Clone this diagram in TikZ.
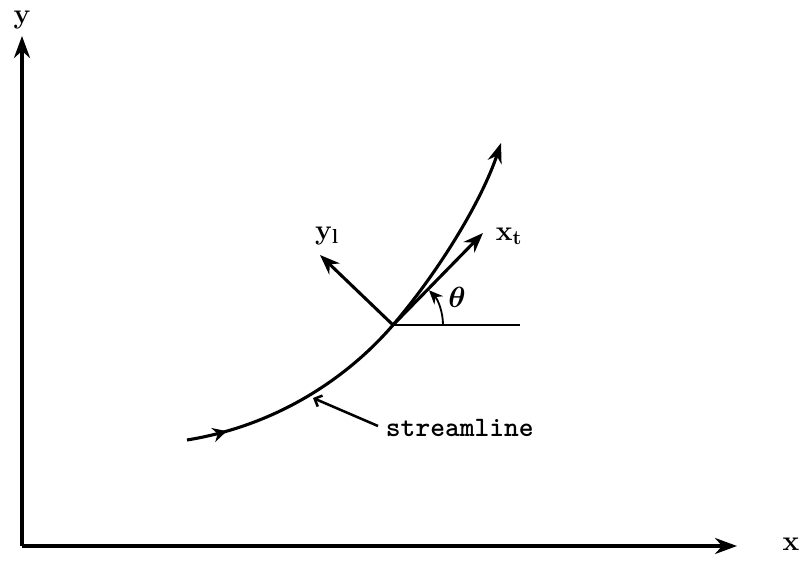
\documentclass[tikz,border=0pt]{standalone}
\usepackage{amsmath,amssymb}
\usetikzlibrary{arrows.meta,decorations.markings}

\begin{document}
\begin{tikzpicture}[x=0.025cm,y=-0.025cm,
  ax/.style={-{Stealth[length=5.5mm,width=4mm]},line width=2.6pt},
  vec/.style={-{Stealth[length=5mm,width=3.8mm]},line width=2.2pt},
  lbl/.style={font=\fontsize{20}{24}\selectfont\bfseries},
  tt/.style={font=\fontsize{20}{24}\selectfont\ttfamily\bfseries}]
\useasboundingbox (0,0) rectangle (800,563);
% axes
\coordinate (o) at (22,546);
\coordinate (ytop) at (22,36);
\coordinate (xend) at (737,546);
\node[lbl,inner sep=0pt] (ylab) at (22,20) {y};
\node[lbl] (xlab) at (791,544) {x};
\draw[ax] (o)--(ytop);
\draw[ax] (o)--(xend);
% streamline
\coordinate (s0) at (187,440);
\coordinate (s1) at (313,398);
\coordinate (p) at (393,325);
\coordinate (s2) at (501,143);
\draw[line width=2.2pt,-{Stealth[length=5mm,width=3.6mm]},
  postaction={decorate,decoration={markings,
  mark=at position 0.09 with {\arrow{Stealth[length=3.5mm,width=3.6mm]}}}}]
  (s0) .. controls (280,425) and (350,375) .. (p)
  .. controls (440,270) and (482,200) .. (s2);
\node[tt,anchor=west] (slab) at (381,428) {streamline};
\draw[line width=1.8pt,-{Straight Barb[length=1.5mm,width=3mm]}] (slab.west)++(-3,-2)--(s1);
% local axes
\coordinate (yl) at (320,255);
\coordinate (xt) at (483,233);
\coordinate (href) at (520,325);
\draw[vec] (p)--(yl);
\draw[vec] (p)--(xt);
\draw[line width=1pt] (p)--(href);
\draw[line width=1.3pt,-{Stealth[length=3.5mm,width=3mm]}] ([shift={(0:50)}]p) arc (0:-44:50);
\node[lbl] (yllab) at (327,236) {y$_{\mathbf{l}}$};
\node[lbl] (xtlab) at (509,236) {x$_{\mathbf{t}}$};
\node[lbl] (thlab) at (457,297) {$\boldsymbol{\theta}$};
\end{tikzpicture}
\end{document}
